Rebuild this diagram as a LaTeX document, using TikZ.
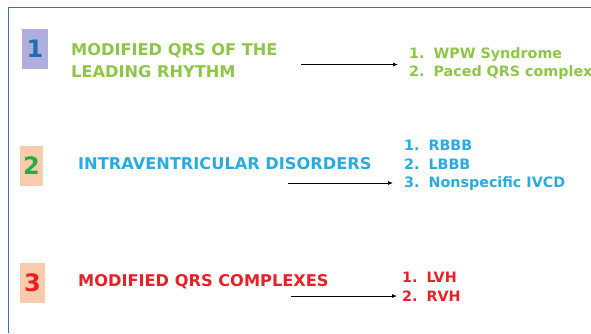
\documentclass[tikz,border=0pt]{standalone}
\usepackage{fontspec}
\setmainfont{DejaVu Sans}[BoldFont={DejaVu Sans Bold}]
\usetikzlibrary{arrows.meta}
\definecolor{framec}{RGB}{60,112,172}
\definecolor{lavend}{RGB}{176,174,221}
\definecolor{peach}{RGB}{248,203,173}
\definecolor{numblue}{RGB}{30,110,180}
\definecolor{numgreen}{RGB}{40,170,75}
\definecolor{leafgreen}{RGB}{141,198,72}
\definecolor{skyblue}{RGB}{41,171,226}
\definecolor{redc}{RGB}{232,32,40}
\begin{document}
\begin{tikzpicture}[x=1pt,y=-1pt,
  numbox/.style={minimum width=24pt,minimum height=40pt,inner sep=0pt,
    font=\fontsize{24}{24}\selectfont\bfseries},
  title/.style={anchor=west,inner sep=0pt,align=left,
    font=\fontsize{16.2}{22}\selectfont\bfseries},
  items/.style={anchor=west,inner sep=0pt,
    font=\fontsize{14.3}{18.5}\selectfont\bfseries},
  link/.style={draw=black,line width=0.8pt,-{Latex[length=5pt,width=4pt]}}]
\useasboundingbox (0,0) rectangle (591,333);
% frame
\draw[framec,line width=1.6pt] (8.6,333) -- (8.6,7.6) -- (591,7.6);
% section 1
\node[numbox,fill=lavend,text=numblue,minimum width=26pt] (n1) at (35,48.5) {1};
\node[title,text=leafgreen] (t1) at (71,61) {MODIFIED QRS OF THE\\LEADING RHYTHM};
\node[items,text=leafgreen] (l1) at (409,64) {%
  \begin{tabular}{@{}l@{\hspace{9pt}}l@{}}1.&WPW Syndrome\\2.&Paced QRS complex\end{tabular}};
\coordinate (a1s) at (301,64.5);
\coordinate (a1e) at (398,64.5);
\draw[link] (a1s) -- (a1e);
% section 2
\node[numbox,fill=peach,text=numgreen,minimum width=23pt] (n2) at (31.5,165.5) {2};
\node[title,text=skyblue] (t2) at (78,164) {INTRAVENTRICULAR DISORDERS};
\node[items,text=skyblue] (l2) at (404,165.5) {%
  \begin{tabular}{@{}l@{\hspace{9pt}}l@{}}1.&RBBB\\2.&LBBB\\3.&Nonspecific IVCD\end{tabular}};
\coordinate (a2s) at (288,183);
\coordinate (a2e) at (393,183);
\draw[link] (a2s) -- (a2e);
% section 3
\node[numbox,fill=peach,text=redc,minimum width=25pt] (n3) at (32.5,283) {3};
\node[title,text=redc] (t3) at (78,282) {MODIFIED QRS COMPLEXES};
\node[items,text=redc] (l3) at (402,288.5) {%
  \begin{tabular}{@{}l@{\hspace{9pt}}l@{}}1.&LVH\\2.&RVH\end{tabular}};
\coordinate (a3s) at (291,296);
\coordinate (a3e) at (397,296);
\draw[link] (a3s) -- (a3e);
\end{tikzpicture}
\end{document}
